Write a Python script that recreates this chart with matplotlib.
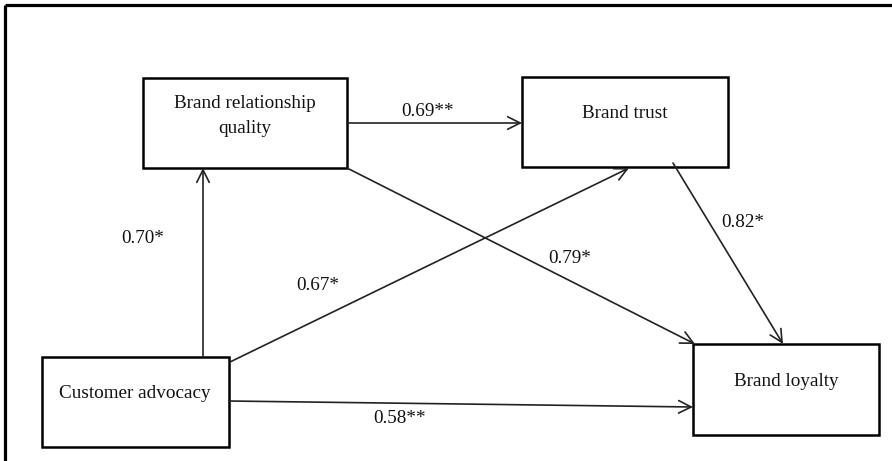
import matplotlib
matplotlib.use("Agg")
import matplotlib.pyplot as plt
from matplotlib.patches import Rectangle

# Data
nodes = ["Brand relationship\nquality", "Brand trust", "Customer advocacy", "Brand loyalty"]
paths = [("Customer advocacy", "Brand relationship\nquality"),
         ("Brand relationship\nquality", "Brand trust"),
         ("Customer advocacy", "Brand trust"),
         ("Brand relationship\nquality", "Brand loyalty"),
         ("Brand trust", "Brand loyalty"),
         ("Customer advocacy", "Brand loyalty")]
coef_labels = ["0.70*", "0.69**", "0.67*", "0.79*", "0.82*", "0.58**"]

# Layout (pixel coordinates, y downward)
boxes = {
    nodes[0]: (143, 78, 347, 168),
    nodes[1]: (522, 77, 728, 167),
    nodes[2]: (42, 357, 229, 447),
    nodes[3]: (693, 344, 879, 435),
}
text_pos = {
    nodes[0]: (245, 116),
    nodes[1]: (625, 113),
    nodes[2]: (135, 393),
    nodes[3]: (786, 381),
}
arrow_xy = [((203, 357), (203, 168)),
            ((347, 123), (522, 123)),
            ((230, 362), (629, 168)),
            ((347, 168), (695, 344)),
            ((673, 163), (783, 344)),
            ((229, 401), (693, 407))]
label_pos = [(143, 238), (428, 111), (318, 285), (570, 258), (743, 222), (400, 418)]

fig = plt.figure(figsize=(8.92, 4.61), dpi=100)
ax = fig.add_axes([0, 0, 1, 1])
ax.set_xlim(0, 892)
ax.set_ylim(461, 0)
ax.axis("off")

font = "Liberation Serif"
fs = 13.8

# outer frame (top and left lines)
ax.plot([5, 892], [5, 5], color="black", lw=2.3, solid_capstyle="butt")
ax.plot([5, 5], [5, 461], color="black", lw=2.3, solid_capstyle="butt")

for n in nodes:
    x0, y0, x1, y1 = boxes[n]
    ax.add_patch(Rectangle((x0, y0), x1 - x0, y1 - y0, fill=False,
                           edgecolor="black", lw=1.8))
    tx, ty = text_pos[n]
    ax.text(tx, ty, n, ha="center", va="center", family=font, fontsize=fs,
            color="#111111", linespacing=1.55)

for (s, e), lab, lp in zip(arrow_xy, coef_labels, label_pos):
    ax.annotate("", xy=e, xytext=s,
                arrowprops=dict(arrowstyle="->,head_length=0.9,head_width=0.45",
                                color="#222222", lw=1.2, shrinkA=0, shrinkB=0))
    ax.text(lp[0], lp[1], lab, ha="center", va="center", family=font,
            fontsize=fs, color="#111111")

fig.savefig("out.png", dpi=100)
